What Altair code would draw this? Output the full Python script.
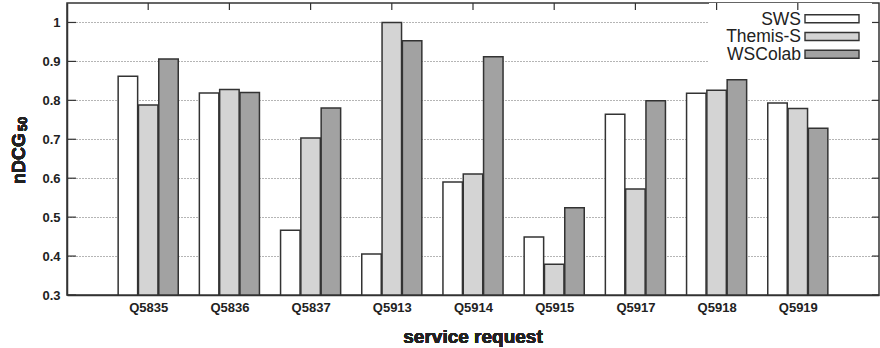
import altair as alt
import pandas as pd

# ---- data -------------------------------------------------------------
categories = ["Q5835", "Q5836", "Q5837", "Q5913", "Q5914",
              "Q5915", "Q5917", "Q5918", "Q5919"]
series = ["SWS", "Themis-S", "WSColab"]
sws = [0.862, 0.819, 0.466, 0.405, 0.590, 0.449, 0.764, 0.818, 0.793]
themis_s = [0.788, 0.828, 0.703, 1.000, 0.611, 0.379, 0.572, 0.826, 0.779]
wscolab = [0.906, 0.820, 0.780, 0.953, 0.912, 0.524, 0.799, 0.853, 0.728]
y_ticks = [0.3, 0.4, 0.5, 0.6, 0.7, 0.8, 0.9, 1.0]

# ---- styling ----------------------------------------------------------
FONT = "Liberation Sans"
INK = "#222222"
EDGE = "#333333"
fills = ["#ffffff", "#d4d4d4", "#a2a2a2"]
W, H = 812, 292

rows = []
for k, (name, vals) in enumerate(zip(series, [sws, themis_s, wscolab])):
    for i, v in enumerate(vals):
        rows.append({"idx": i, "k": k, "series": name, "value": v})
bars_df = pd.DataFrame(rows)

x_scale = alt.Scale(domain=[-1, len(categories)], nice=False, zero=False)
y_scale = alt.Scale(domain=[0.3, 1.05], nice=False, zero=False)
fill_scale = alt.Scale(domain=series, range=fills)

label_expr = "[" + ",".join(f"'{c}'" for c in categories) + "][datum.value]"

x_axis = alt.Axis(values=list(range(len(categories))), labelExpr=label_expr,
                  ticks=False, tickSize=0, grid=False, labelPadding=6,
                  labelFont=FONT, labelFontSize=13, labelFontWeight="bold",
                  labelColor=INK, domainColor=EDGE, domainWidth=1.5,
                  labelFlush=False, labelOverlap=False, title=None)
y_axis = alt.Axis(values=y_ticks, format="~g", ticks=False, tickSize=0,
                  grid=True, gridDash=[1, 2], gridColor="#6a6a6a", gridWidth=1,
                  labelPadding=7, labelFont=FONT, labelFontSize=13,
                  labelFontWeight="bold", labelColor=INK,
                  domainColor=EDGE, domainWidth=1.5, labelFlush=False,
                  labelOverlap=False, title=None)

# grouped bars: three boxes side by side around each request index
bars = alt.Chart(bars_df).transform_calculate(
    x0="datum.idx + (datum.k - 1) * 0.25 - 0.12",
    x1="datum.idx + (datum.k - 1) * 0.25 + 0.12",
).mark_rect(stroke=EDGE, strokeWidth=1.5).encode(
    x=alt.X("x0:Q", scale=x_scale, title=None, axis=x_axis),
    x2="x1:Q",
    y=alt.Y("value:Q", scale=y_scale, title=None, axis=y_axis),
    y2=alt.datum(0.3),
    fill=alt.Fill("series:N", scale=fill_scale, legend=None),
)

# inward tick marks on the frame
tick_df = pd.DataFrame({"t": y_ticks})
left_ticks = alt.Chart(tick_df).mark_rule(color=EDGE, strokeWidth=1.2).encode(
    y=alt.Y("t:Q", scale=y_scale, title=None, axis=y_axis),
    x=alt.value(0), x2=alt.value(9),
)
right_ticks = alt.Chart(tick_df).mark_rule(color=EDGE, strokeWidth=1.2).encode(
    y=alt.Y("t:Q", scale=y_scale, title=None, axis=y_axis),
    x=alt.value(W - 7), x2=alt.value(W),
)
cat_df = pd.DataFrame({"idx": list(range(len(categories)))})
top_ticks = alt.Chart(cat_df).mark_rule(color=EDGE, strokeWidth=1.2).encode(
    x=alt.X("idx:Q", scale=x_scale, title=None, axis=x_axis),
    y=alt.value(0), y2=alt.value(7),
)

# key box in the upper right corner
key_bg = alt.Chart(cat_df).mark_rect(fill="white").encode(
    x=alt.value(642), x2=alt.value(805), y=alt.value(0), y2=alt.value(62),
)
key_df = pd.DataFrame({"series": series, "row": list(range(len(series)))})
key_base = alt.Chart(key_df).transform_calculate(
    cy="15.7 + datum.row * 17.75",
    top="datum.cy - 4",
    bottom="datum.cy + 4",
)
key_swatch = key_base.mark_rect(stroke=EDGE, strokeWidth=1.4).encode(
    x=alt.value(738), x2=alt.value(792),
    y=alt.Y("top:Q", scale=None, title=None),
    y2="bottom:Q",
    fill=alt.Fill("series:N", scale=fill_scale, legend=None),
)
key_text = key_base.mark_text(align="right", baseline="middle", font=FONT,
                              fontSize=17.5, color=INK, dy=1).encode(
    x=alt.value(734),
    y=alt.Y("cy:Q", scale=None, title=None),
    text="series:N",
)

# axis titles
x_title = alt.Chart(cat_df).mark_text(align="center", baseline="alphabetic",
                                      font=FONT, fontSize=19, fontWeight="bold",
                                      color=INK).encode(
    x=alt.value(W / 2), y=alt.value(339.5), text=alt.value("service request"),
)
y_title_main = alt.Chart(cat_df).mark_text(align="center", baseline="alphabetic",
                                           angle=270, font=FONT, fontSize=18,
                                           fontWeight="bold", color=INK).encode(
    x=alt.value(-42), y=alt.value(155.5), text=alt.value("nDCG"),
)
y_title_sub = alt.Chart(cat_df).mark_text(align="center", baseline="alphabetic",
                                          angle=270, font=FONT, fontSize=13,
                                          fontWeight="bold", color=INK).encode(
    x=alt.value(-40), y=alt.value(121), text=alt.value("50"),
)

chart = alt.layer(
    bars, key_bg, left_ticks, right_ticks, top_ticks,
    key_swatch, key_text, x_title, y_title_main, y_title_sub,
).properties(
    width=W, height=H,
    autosize=alt.AutoSizeParams(type="none"),
    padding={"left": 67, "top": 3, "right": 1, "bottom": 53},
).configure_view(stroke=EDGE, strokeWidth=1.5)

chart.save("out.html", embed_options={"renderer": "svg", "actions": False})
